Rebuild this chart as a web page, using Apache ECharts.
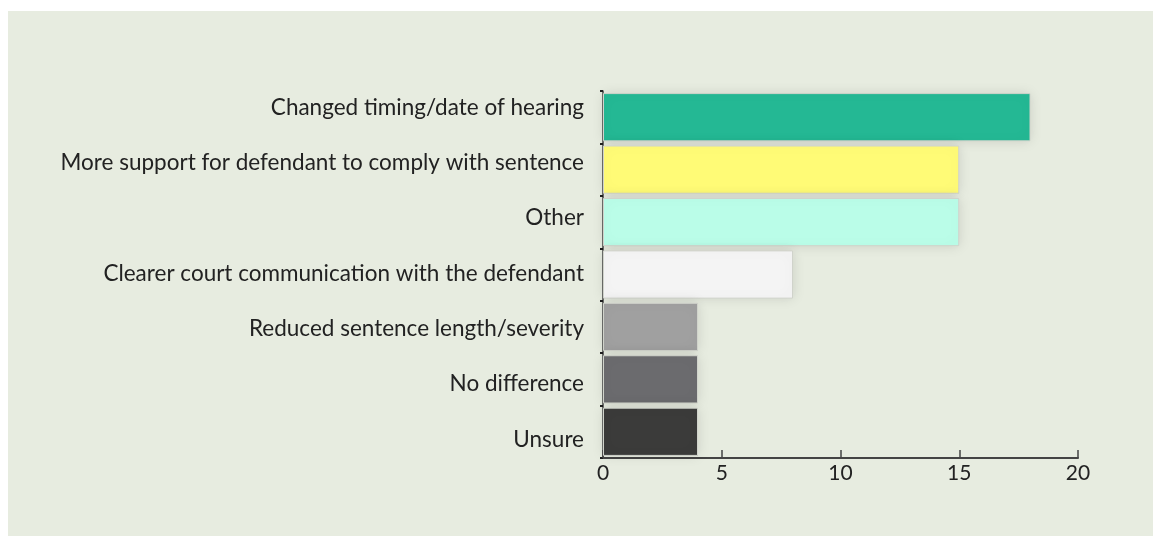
<!DOCTYPE html>
<html>
<head>
<meta charset="utf-8">
<script src="https://cdn.jsdelivr.net/npm/echarts@6/dist/echarts.min.js"></script>
<style>
  html, body { margin: 0; padding: 0; background: #ffffff; }
  #wrap { position: absolute; left: 8px; top: 11px; width: 1145px; height: 525px; background: #e7ece0; }
  #chart { position: absolute; left: 0; top: 0; width: 1156px; height: 536px; }
</style>
</head>
<body>
<div id="wrap"></div>
<div id="chart"></div>
<script>
// categories, top to bottom
var categories = [
    "Changed timing/date of hearing",
    "More support for defendant to comply with sentence",
    "Other",
    "Clearer court communication with the defendant",
    "Reduced sentence length/severity",
    "No difference",
    "Unsure"
];
var counts = [18, 15, 15, 8, 4, 4, 4];
var barColors = ["#24b894", "#fffb76", "#bafde8", "#f4f4f4", "#a0a0a0", "#6b6b6e", "#3b3b3a"];
var xTicks = [0, 5, 10, 15, 20];

var chart = echarts.init(document.getElementById("chart"));
window.addEventListener("resize", chart.resize);

var barData = counts.map(function(v, i) {
    return {
        value: v,
        itemStyle: { color: barColors[i] }
    };
});

var option = {
    animation: false,
    grid: [{
        left: 603,
        right: 78,
        top: 91,
        bottom: 78
    }, {
        // labels sit on a slightly wider spacing than the bars
        left: 603,
        right: 78,
        top: 80,
        bottom: 69
    }],
    xAxis: [{
        type: "value",
        gridIndex: 0,
        min: xTicks[0],
        max: xTicks[xTicks.length - 1],
        interval: 5,
        splitLine: { show: false },
        axisLine: { show: true, lineStyle: { color: "#444", width: 2 } },
        axisTick: { show: true, inside: true, length: 8, lineStyle: { color: "#444", width: 1.5 } },
        axisLabel: {
            color: "#222",
            fontSize: 21,
            fontFamily: "Lato",
            margin: 5
        }
    }, {
        type: "value",
        gridIndex: 1,
        show: false
    }],
    yAxis: [{
        type: "category",
        gridIndex: 0,
        inverse: true,
        data: categories,
        axisLine: { show: true, lineStyle: { color: "#444", width: 1.5 } },
        axisTick: { show: true, length: 3, lineStyle: { color: "#222", width: 2 } },
        axisLabel: { show: false }
    }, {
        type: "category",
        gridIndex: 1,
        inverse: true,
        data: categories,
        axisLine: { show: false },
        axisTick: { show: false },
        axisLabel: {
            color: "#222",
            fontSize: 22.5,
            fontFamily: "Lato",
            margin: 19
        }
    }],
    series: [{
        type: "bar",
        xAxisIndex: 0,
        yAxisIndex: 0,
        data: barData,
        barCategoryGap: "8%",
        itemStyle: {
            borderColor: "#d0d3cb",
            borderWidth: 1,
            shadowColor: "rgba(0,0,0,0.12)",
            shadowBlur: 12
        }
    }]
};
chart.setOption(option);
</script>
</body>
</html>
